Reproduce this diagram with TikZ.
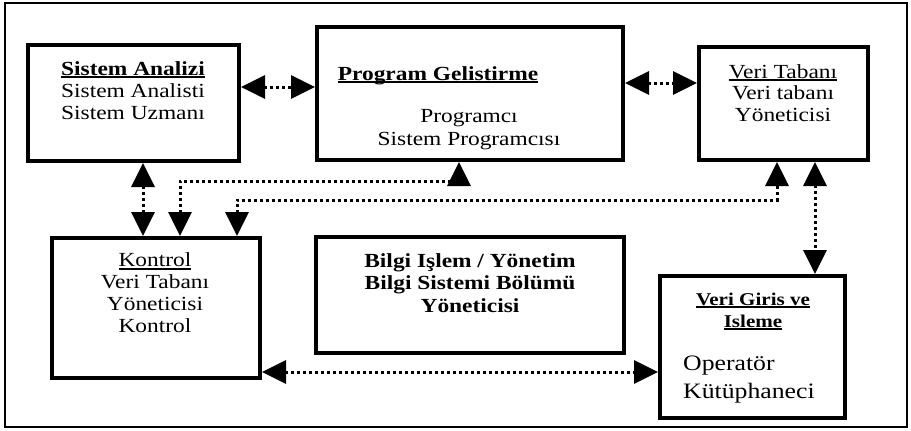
\documentclass[tikz,border=0pt]{standalone}
\usepackage{fontspec}
\setmainfont{Liberation Serif}[FakeStretch=1.17]
\usetikzlibrary{arrows.meta}

\newcommand{\undl}[1]{\setbox0\hbox{#1}\rlap{\rule[-3pt]{\wd0}{1.8pt}}\box0}

\begin{document}
\begin{tikzpicture}[x=1pt,y=-1pt,
	unit/.style={draw, line width=4pt, inner sep=0pt},
	txt/.style={inner sep=0pt, anchor=base, align=center, font=\fontsize{20}{22}\selectfont},
	link/.style={line width=3pt, dash pattern=on 3pt off 3pt,
		{Triangle[length=24pt,width=23pt]}-{Triangle[length=24pt,width=23pt]}}]

		\useasboundingbox (0,0) rectangle (911,431);

		% frame
		\draw [line width=1.5pt] (5,3) rectangle (907,427);

		% units
		\node [unit, minimum width=211pt, minimum height=116pt] (sa) at (133.5,103) {};
		\node [unit, minimum width=306pt, minimum height=133pt] (pg) at (470,93.5) {};
		\node [unit, minimum width=169pt, minimum height=113pt] (vt) at (783.5,103.5) {};
		\node [unit, minimum width=208pt, minimum height=140pt] (ko) at (156,308) {};
		\node [unit, minimum width=308pt, minimum height=116pt] (bi) at (470,295) {};
		\node [unit, minimum width=185pt, minimum height=142pt] (vg) at (752.5,347) {};

		% texts (placed at the baseline of their last line)
		\node [txt] (saT) at (133,119) {\undl{\bfseries Sistem Analizi}\\Sistem Analisti\\Sistem Uzmanı};
		\node [txt] (pgT) at (438,80) {\undl{\bfseries Program Gelistirme}};
		\node [txt, font=\fontsize{20}{23}\selectfont] (pgB) at (469,145) {Programcı\\Sistem Programcısı};
		\node [txt, font=\fontsize{20}{21.5}\selectfont] (vtT) at (783,121) {\undl{Veri Tabanı}\\Veri tabanı\\Yöneticisi};
		\node [txt, font=\fontsize{20}{21.7}\selectfont] (koT) at (155,332) {\undl{Kontrol}\\Veri Tabanı\\Yöneticisi\\Kontrol};
		\node [txt, font=\fontsize{20}{22.5}\selectfont\bfseries] (biT) at (470,312) {Bilgi Işlem / Yönetim\\Bilgi Sistemi Bölümü\\Yöneticisi};
		\node [txt, font=\fontsize{18}{22}\selectfont\bfseries] (vgT) at (753,327) {\undl{Veri Giris ve}\\\undl{Isleme}};
		\node [txt, align=left, anchor=base west, font=\fontsize{22}{28}\selectfont] (vgB) at (683,398) {Operatör\\Kütüphaneci};

		% links
		\coordinate (c1) at (0,87);
		\coordinate (c2) at (0,83);
		\coordinate (c3) at (143,0);
		\coordinate (c4) at (815,0);
		\coordinate (c5) at (0,372);
		\coordinate (k1) at (180,0);
		\coordinate (k2) at (237,0);
		\coordinate (j1) at (459,181);
		\coordinate (j2) at (777,200);

		\draw [link] (sa.east |- c1) -- (pg.west |- c1);
		\draw [link] (pg.east |- c2) -- (vt.west |- c2);
		\draw [link] (sa.south -| c3) -- (ko.north -| c3);
		\draw [link] (ko.north -| k1) |- (j1) -- (pg.south -| j1);
		\draw [link] (ko.north -| k2) |- (j2) -- (vt.south -| j2);
		\draw [link] (vt.south -| c4) -- (vg.north -| c4);
		\draw [link] (ko.east |- c5) -- (vg.west |- c5);

	\end{tikzpicture}
\end{document}
